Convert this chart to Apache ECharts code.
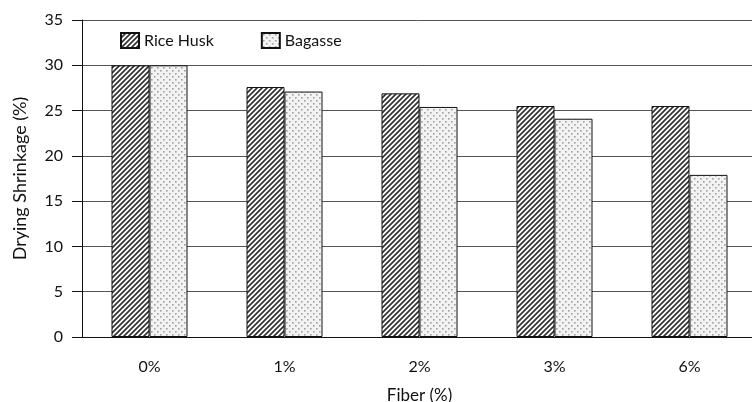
<!DOCTYPE html>
<html><head><meta charset="utf-8">
<script src="https://cdn.jsdelivr.net/npm/echarts@6/dist/echarts.min.js"></script>
<style>html,body{margin:0;padding:0;background:#fff}#c{width:752px;height:402px}</style>
</head><body><div id="c"></div>
<script>
const categories = ['0%', '1%', '2%', '3%', '6%'];
const riceHusk = [30, 27.6, 26.9, 25.5, 25.5];
const bagasse = [30, 27.1, 25.4, 24.1, 17.9];
const seriesNames = ['Rice Husk', 'Bagasse'];

function hatch() {
  const s = 5;
  const c = document.createElement('canvas');
  c.width = s; c.height = s;
  const g = c.getContext('2d');
  g.fillStyle = '#fff'; g.fillRect(0, 0, s, s);
  g.strokeStyle = '#333'; g.lineWidth = 1.7;
  g.beginPath();
  g.moveTo(-1, s + 1); g.lineTo(s + 1, -1);
  g.moveTo(-s - 1, s + 1); g.lineTo(s + 1, -s - 1);
  g.moveTo(-1, 2 * s + 1); g.lineTo(2 * s + 1, -1);
  g.stroke();
  return c;
}
function dots() {
  const c = document.createElement('canvas');
  c.width = 6; c.height = 6;
  const g = c.getContext('2d');
  g.fillStyle = '#f3f3f3'; g.fillRect(0, 0, 6, 6);
  g.fillStyle = '#a0a0a0';
  g.fillRect(1, 1, 1.6, 1.6);
  g.fillRect(4, 4, 1.6, 1.6);
  return c;
}

const font = 'Lato, "Open Sans", sans-serif';
const chart = echarts.init(document.getElementById('c'));
chart.setOption({
  animation: false,
  textStyle: { fontFamily: font },
  grid: { left: 82, right: -5, top: 20, bottom: 65, outerBoundsMode: 'none', containLabel: false },
  legend: {
    left: 115, top: 27, itemWidth: 18, itemHeight: 15, itemGap: 47,
    icon: 'rect',
    textStyle: { fontSize: 16, color: '#111', fontFamily: font },
    data: seriesNames
  },
  xAxis: {
    type: 'category', data: categories,
    axisLine: { lineStyle: { color: '#111', width: 1 } },
    axisTick: { show: false },
    axisLabel: { fontSize: 16, color: '#111', margin: 22 },
    name: 'Fiber (%)', nameLocation: 'middle', nameGap: 50,
    nameTextStyle: { fontSize: 17, color: '#111' }
  },
  yAxis: {
    type: 'value', min: 0, max: 35, interval: 5,
    axisLine: { show: true, lineStyle: { color: '#111', width: 1 } },
    axisTick: { show: true, length: 10, lineStyle: { color: '#111' } },
    axisLabel: { fontSize: 16, color: '#111', margin: 19 },
    splitLine: { lineStyle: { color: '#555', width: 1 } },
    name: 'Drying Shrinkage (%)', nameLocation: 'middle', nameGap: 53,
    nameTextStyle: { fontSize: 18, color: '#111' }
  },
  series: [
    {
      name: seriesNames[0], type: 'bar', data: riceHusk, barWidth: 38, barGap: '0%',
      itemStyle: { color: { image: hatch(), repeat: 'repeat' }, borderColor: '#111', borderWidth: 1 }
    },
    {
      name: seriesNames[1], type: 'bar', data: bagasse, barWidth: 38, barGap: '0%',
      itemStyle: { color: { image: dots(), repeat: 'repeat' }, borderColor: '#111', borderWidth: 1 }
    }
  ]
});
</script></body></html>
